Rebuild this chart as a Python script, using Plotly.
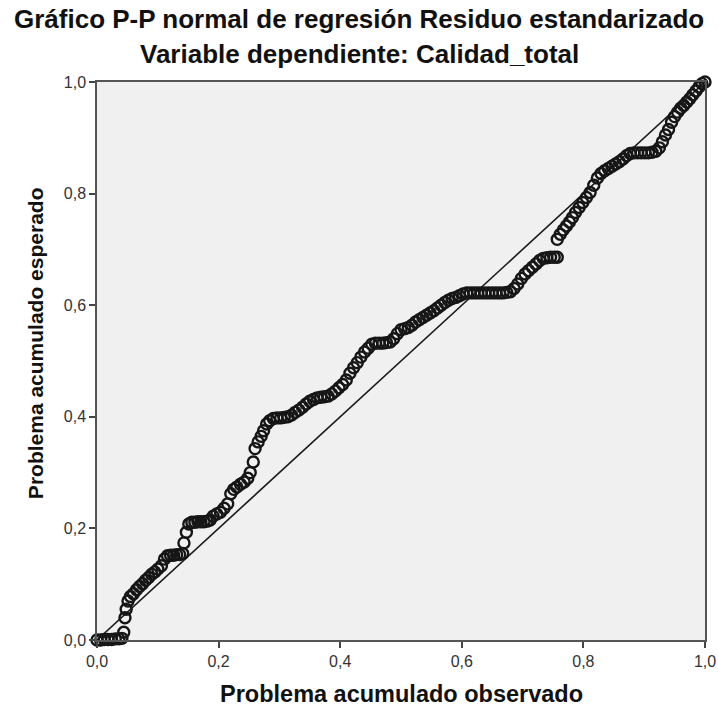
import plotly.graph_objects as go

# Observed cumulative probability of the standardized residuals
observed = [
    0.000, 0.006, 0.012, 0.018, 0.024, 0.030, 0.036, 0.041, 0.044,
    0.046, 0.048, 0.051, 0.055, 0.060, 0.065, 0.070, 0.075, 0.080, 0.085,
    0.090, 0.095, 0.100, 0.106, 0.111, 0.116,
    0.121, 0.126, 0.131, 0.136, 0.141,
    0.143, 0.147, 0.151,
    0.156, 0.161, 0.166, 0.171, 0.176, 0.181, 0.186,
    0.191, 0.197, 0.203, 0.209, 0.215, 0.220, 0.225, 0.230, 0.236, 0.242,
    0.248, 0.252,
    0.257, 0.260, 0.265, 0.270, 0.274, 0.279, 0.284, 0.290, 0.296, 0.302,
    0.308, 0.314, 0.320, 0.326, 0.332, 0.338, 0.344, 0.350, 0.356, 0.362,
    0.368, 0.374, 0.380, 0.386, 0.392, 0.398, 0.404, 0.410, 0.416, 0.422,
    0.428, 0.434, 0.440, 0.446, 0.452, 0.458, 0.464, 0.470, 0.476, 0.482,
    0.488, 0.494, 0.500, 0.506, 0.512, 0.518, 0.524, 0.530, 0.536, 0.542,
    0.548, 0.554, 0.560, 0.566, 0.572, 0.578, 0.584, 0.590, 0.596, 0.602,
    0.608, 0.614, 0.620, 0.626, 0.632, 0.638, 0.644, 0.650, 0.656, 0.662,
    0.668, 0.674, 0.680, 0.686, 0.692, 0.698, 0.704, 0.710, 0.716, 0.722,
    0.728, 0.734, 0.740, 0.746, 0.752, 0.757,
    0.757, 0.762, 0.767, 0.772, 0.777, 0.782, 0.787, 0.793, 0.799, 0.805,
    0.811, 0.817, 0.823, 0.829, 0.835, 0.841, 0.847, 0.853, 0.859, 0.865,
    0.871, 0.877, 0.883, 0.889, 0.895, 0.901, 0.907, 0.913, 0.919, 0.925,
    0.930, 0.935, 0.940, 0.945, 0.950, 0.955, 0.960, 0.965, 0.970, 0.975,
    0.980, 0.985, 0.990, 0.995, 1.000,
]

# Expected cumulative probability under normality
expected = [
    0.000, 0.000, 0.001, 0.001, 0.001, 0.002, 0.002, 0.003, 0.014,
    0.040, 0.055, 0.070, 0.078, 0.083, 0.090, 0.096, 0.101, 0.107, 0.112,
    0.118, 0.122, 0.127, 0.133, 0.145, 0.151,
    0.152, 0.152, 0.153, 0.153, 0.155,
    0.174, 0.193, 0.208,
    0.211, 0.211, 0.212, 0.212, 0.212, 0.213, 0.215,
    0.222, 0.226, 0.229, 0.236, 0.244, 0.262, 0.270, 0.274, 0.279, 0.283,
    0.290, 0.300,
    0.319, 0.343, 0.355, 0.365, 0.375, 0.387, 0.393, 0.397, 0.398, 0.398,
    0.399, 0.400, 0.403, 0.408, 0.412, 0.417, 0.423, 0.428, 0.431, 0.434,
    0.435, 0.436, 0.437, 0.441, 0.446, 0.452, 0.458, 0.466, 0.478, 0.488,
    0.497, 0.507, 0.516, 0.523, 0.530, 0.532, 0.532, 0.532, 0.533, 0.534,
    0.540, 0.549, 0.556, 0.558, 0.560, 0.564, 0.570, 0.574, 0.578, 0.582,
    0.586, 0.590, 0.595, 0.600, 0.605, 0.609, 0.612, 0.614, 0.617, 0.620,
    0.622, 0.622, 0.622, 0.622, 0.622, 0.622, 0.622, 0.622, 0.622, 0.622,
    0.622, 0.623, 0.624, 0.630, 0.638, 0.648, 0.656, 0.662, 0.668, 0.674,
    0.680, 0.684, 0.685, 0.686, 0.686, 0.686,
    0.718, 0.727, 0.735, 0.742, 0.749, 0.757, 0.766, 0.775, 0.784, 0.793,
    0.802, 0.815, 0.828, 0.836, 0.841, 0.845, 0.849, 0.853, 0.857, 0.862,
    0.868, 0.872, 0.873, 0.873, 0.873, 0.873, 0.873, 0.874, 0.876, 0.882,
    0.893, 0.905, 0.915, 0.928, 0.938, 0.946, 0.953, 0.958, 0.964, 0.970,
    0.977, 0.984, 0.991, 0.997, 1.000,
]

# Reference line of perfect normality
diag = [0.0, 1.0]
tick_vals = [0.0, 0.2, 0.4, 0.6, 0.8, 1.0]

title_1 = "Gráfico P-P normal de regresión Residuo estandarizado"
title_2 = "Variable dependiente: Calidad_total"
x_title = "Problema acumulado observado"
y_title = "Problema acumulado esperado"

FONT = "Liberation Sans, Arial, sans-serif"

fig = go.Figure()

fig.add_trace(go.Scatter(
    x=diag, y=diag, mode="lines",
    line=dict(color="#1a1a1a", width=1.6),
    hoverinfo="skip", showlegend=False,
))

fig.add_trace(go.Scatter(
    x=observed, y=expected, mode="markers",
    marker=dict(symbol="circle-open", size=11, color="#161616",
                line=dict(width=2.4, color="#161616")),
    cliponaxis=False, showlegend=False,
))

axis_common = dict(
    range=[0, 1], tickvals=tick_vals, tickformat=".1f",
    showgrid=False, zeroline=False, automargin=False,
    showline=True, linecolor="#555555", linewidth=1.5, mirror=True,
    ticks="outside", ticklen=6, tickwidth=1.5, tickcolor="#444444",
    tickfont=dict(family=FONT, size=16, color="#333333"),
)

fig.update_xaxes(**axis_common)
fig.update_yaxes(**axis_common)

fig.update_layout(
    width=718, height=708,
    margin=dict(l=97, r=13, t=82, b=68),
    paper_bgcolor="white",
    plot_bgcolor="#f0f0f0",
    separators=",.",
    annotations=[
        dict(text="<b>" + title_1 + "</b>", xref="paper", yref="paper",
             x=0.431, y=1.113, xanchor="center", yanchor="middle",
             showarrow=False, font=dict(family=FONT, size=26, color="#111111")),
        dict(text="<b>" + title_2 + "</b>", xref="paper", yref="paper",
             x=0.431, y=1.050, xanchor="center", yanchor="middle",
             showarrow=False, font=dict(family=FONT, size=26, color="#111111")),
        dict(text="<b>" + x_title + "</b>", xref="paper", yref="paper",
             x=0.5, y=-0.097, xanchor="center", yanchor="middle",
             showarrow=False, font=dict(family=FONT, size=23.5, color="#111111")),
        dict(text="<b>" + y_title + "</b>", xref="paper", yref="paper",
             x=-0.102, y=0.532, xanchor="center", yanchor="middle",
             textangle=-90,
             showarrow=False, font=dict(family=FONT, size=21, color="#111111")),
    ],
)

fig.write_html("out.html")
